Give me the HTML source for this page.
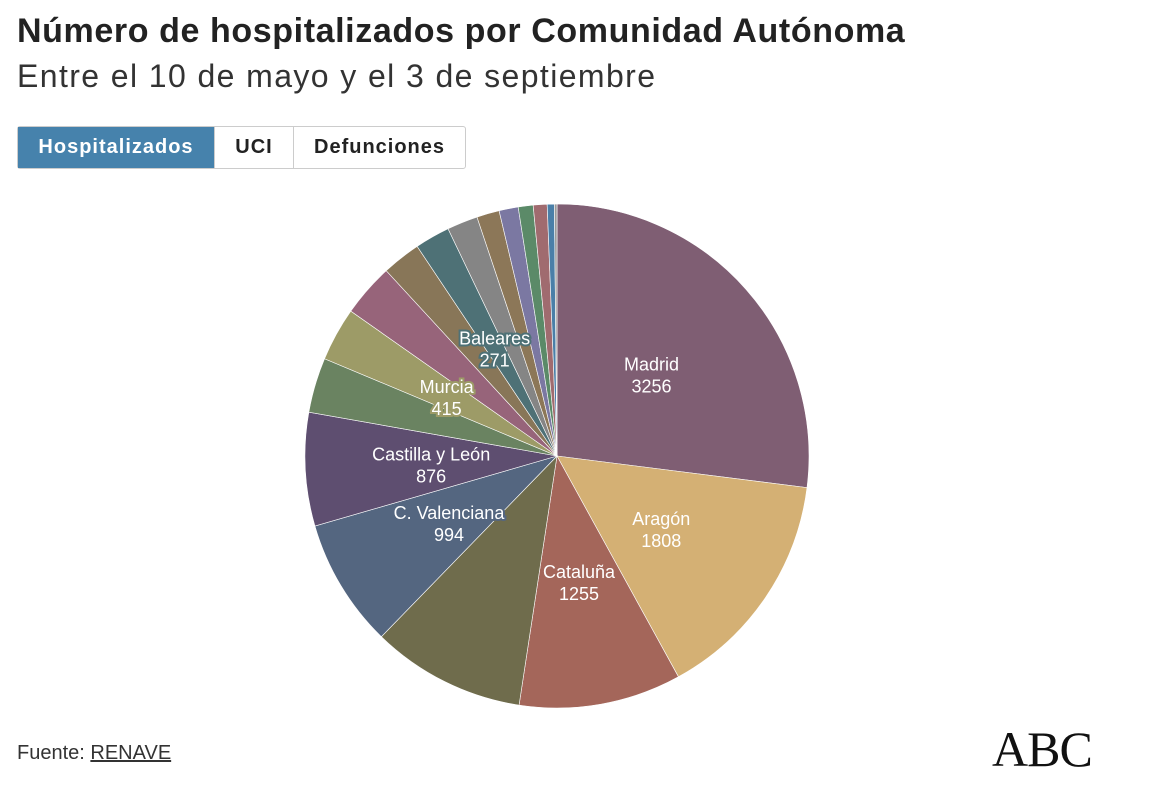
<!DOCTYPE html>
<html><head><meta charset="utf-8"><style>
body{margin:0;width:1152px;height:796px;background:#fff;font-family:"Liberation Sans",sans-serif;position:relative;overflow:hidden}
h1{position:absolute;left:17px;top:12px;margin:0;font-size:34px;font-weight:bold;color:#222;letter-spacing:0.6px}
.sub{position:absolute;left:17px;top:58px;font-size:32px;color:#333;letter-spacing:1.4px}
.tabs{position:absolute;left:17px;top:126px;display:flex;height:43px;border:1px solid #ccc;border-radius:3px;box-sizing:border-box}
.tab{font-weight:bold;font-size:20px;color:#222;padding:0 20px;line-height:41px;border-right:1px solid #ccc;letter-spacing:1px;text-align:center;box-sizing:border-box}
.tab:last-child{border-right:none}
.tab.on{background:#4682ac;color:#fff}
.src{position:absolute;left:17px;top:742px;font-size:20px;color:#333}
.src u{color:#333}
.abc{position:absolute;left:992px;top:720px;font-family:"Liberation Serif",serif;font-size:50px;color:#111;letter-spacing:-1px}
</style></head><body>
<h1>Número de hospitalizados por Comunidad Autónoma</h1>
<div class="sub">Entre el 10 de mayo y el 3 de septiembre</div>
<div class="tabs">
<div class="tab on" style="width:197px">Hospitalizados</div>
<div class="tab" style="width:79px">UCI</div>
<div class="tab" style="width:171px">Defunciones</div>
</div>
<svg id="pie" width="1152" height="796" style="position:absolute;left:0;top:0"></svg>
<div class="src">Fuente: <u>RENAVE</u></div>
<div class="abc">ABC</div>
<script>
const regions=["Madrid","Aragón","Cataluña","Andalucía","C. Valenciana","Castilla y León","Castilla-La Mancha","Murcia","País Vasco","Galicia","Baleares","Navarra","Canarias","Extremadura","La Rioja","Cantabria","Asturias","Ceuta/Melilla"];
const values=[3256,1808,1255,1190,994,876,425,415,410,300,271,238,175,148,115,107,55,20];
const showLabel=[1,1,1,0,1,1,0,1,0,0,1,0,0,0,0,0,0,0];
const colors=["#7f5e73","#d4b074","#a4665a","#6f6c4c","#546680","#5e4e70","#6a8361","#9d9b67","#97647a","#887658","#4e7176","#858585","#8c7758","#7b78a2","#5b8a68","#a06b6f","#4a7fa8","#999"];
const svg=document.getElementById('pie'),NS="http://www.w3.org/2000/svg";
const cx=557,cy=456,R=252,total=values.reduce((a,b)=>a+b,0);
function pt(a,r){return [cx+r*Math.sin(a),cy-r*Math.cos(a)];}
let a0=0;
values.forEach((v,i)=>{
  const a1=a0+v/total*2*Math.PI;
  const p0=pt(a0,R),p1=pt(a1,R);
  const p=document.createElementNS(NS,'path');
  p.setAttribute('d',`M${cx},${cy}L${p0[0]},${p0[1]}A${R},${R} 0 ${a1-a0>Math.PI?1:0} 1 ${p1[0]},${p1[1]}Z`);
  p.setAttribute('fill',colors[i]);p.setAttribute('stroke','#fff');p.setAttribute('stroke-width','0.6');
  
  
  svg.appendChild(p);
  a0=a1;
});
a0=0;
values.forEach((v,i)=>{
  const a1=a0+v/total*2*Math.PI;
  if(showLabel[i]){
    const c=pt((a0+a1)/2,126);
    [regions[i],String(v)].forEach((s,k)=>{
      const t=document.createElementNS(NS,'text');
      t.setAttribute('x',c[0]);t.setAttribute('y',c[1]+(k?22:0)-2);
      t.setAttribute('text-anchor','middle');t.setAttribute('font-size','18');
      t.setAttribute('fill','#fff');t.setAttribute('stroke',colors[i]);t.setAttribute('stroke-width','4');
      t.setAttribute('paint-order','stroke');t.setAttribute('font-family','Liberation Sans, sans-serif');
      t.textContent=s;
      
      
      svg.appendChild(t);
    });
  }
  a0=a1;
});
</script>
</body></html>
